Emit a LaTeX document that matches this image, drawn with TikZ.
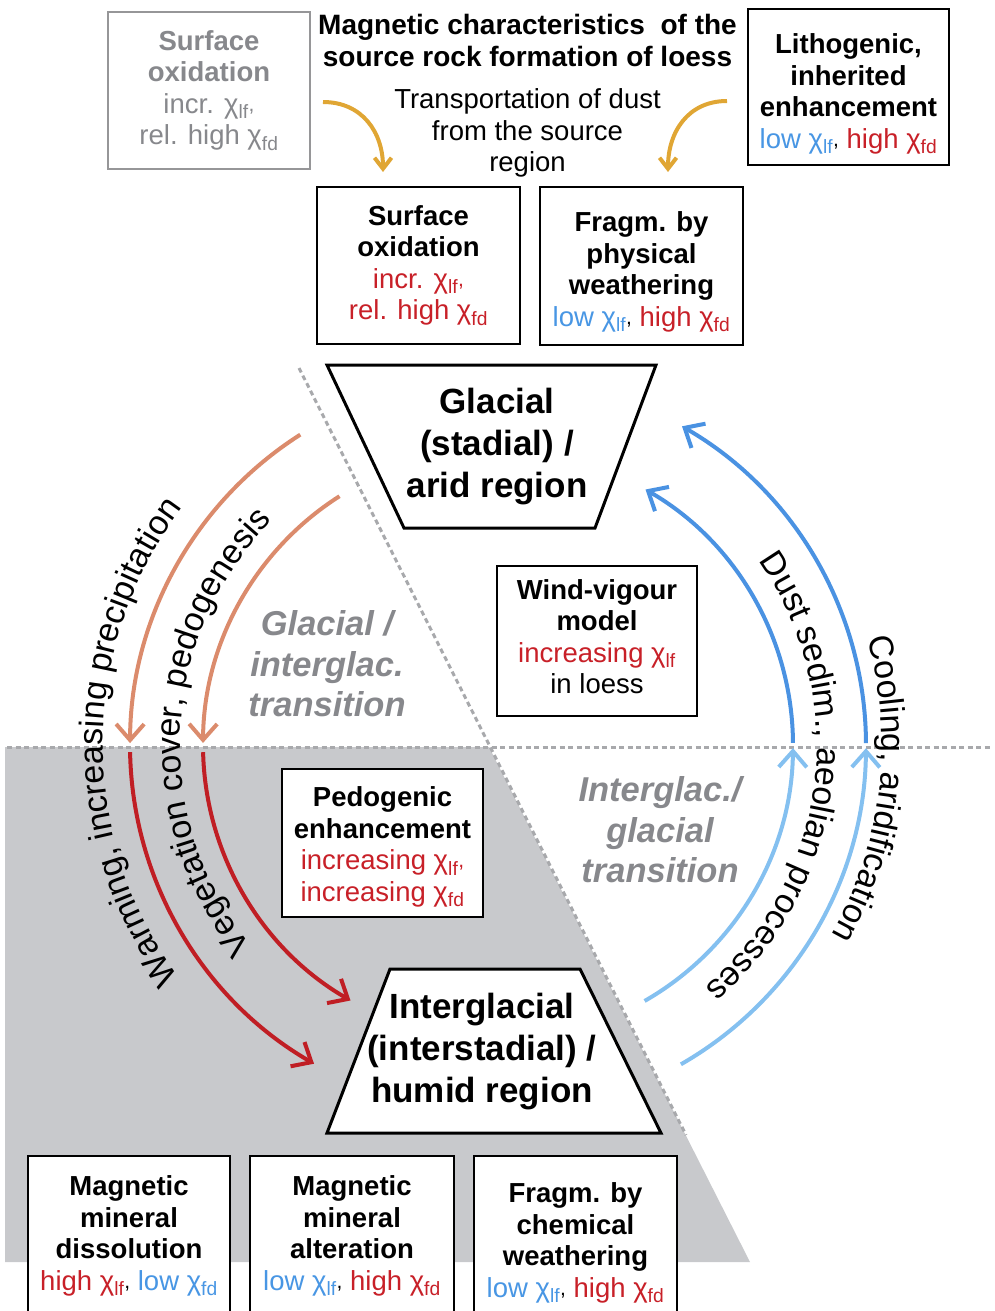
\documentclass[tikz,border=0pt]{standalone}
\usepackage{fontspec}
\setmainfont{Liberation Sans}
\usetikzlibrary{arrows.meta,decorations.text}

\definecolor{redtxt}{RGB}{200,32,40}
\definecolor{bluetxt}{RGB}{72,150,228}
\definecolor{greytxt}{RGB}{135,136,140}
\definecolor{greyframe}{RGB}{150,150,152}
\definecolor{warmorange}{RGB}{219,139,108}
\definecolor{warmred}{RGB}{192,30,36}
\definecolor{colddark}{RGB}{74,146,226}
\definecolor{coldlight}{RGB}{132,192,240}
\definecolor{dustgold}{RGB}{224,166,52}
\definecolor{humidgrey}{RGB}{200,201,204}
\definecolor{dashgrey}{RGB}{168,169,172}

\newcommand{\xlf}{χ\textsubscript{lf}}
\newcommand{\xfd}{χ\textsubscript{fd}}
\newcommand{\subcomma}{\raisebox{2pt}{\fontsize{21}{21}\selectfont,}}
\newcommand{\rtxt}[1]{\textcolor{redtxt}{#1}}
\newcommand{\btxt}[1]{\textcolor{bluetxt}{#1}}
\newcommand{\boxfont}{\fontsize{27.5}{31.5}\selectfont}
\newcommand{\arcfont}{\fontsize{34}{40}\selectfont}
\newcommand{\cutoff}{\rule[-80pt]{0pt}{0pt}}
\newcommand{\padtop}[1]{\rule{0pt}{#1}}
\newcommand{\padbottom}[1]{\rule[-#1]{0pt}{0pt}}

\begin{document}
\begin{tikzpicture}[x=1pt, y=1pt,
    infobox/.style={draw, line width=1.8pt, fill=white, align=center,
                    inner sep=2pt, font=\boxfont},
    ghostbox/.style={infobox, draw=greyframe, text=greytxt},
    plaintext/.style={align=center, inner sep=0pt, font=\boxfont},
    regiontext/.style={align=center, inner sep=0pt,
                       font=\fontsize{35}{42}\selectfont\bfseries},
    phasetext/.style={align=center, inner sep=0pt, text=greytxt,
                      font=\fontsize{34.5}{40.5}\selectfont\bfseries\itshape},
    regionline/.style={line width=3pt, fill=white, line join=miter},
    divider/.style={dashgrey, line width=3pt, dash pattern=on 5pt off 3.5pt},
    cyclearrow/.style={line width=4pt, -{Straight Barb[length=16pt,width=28pt]}},
    dustarrow/.style={dustgold, line width=4pt, -{Straight Barb[length=11pt,width=17pt]}},
    arclabel/.style={decorate, decoration={text along path, text align=center, text={#1}}}
  ]
  \useasboundingbox (0,0) rectangle (995,-1311);
  \clip (0,0) rectangle (995,-1311);

  % humid (interglacial) half
  \fill[humidgrey] (5,-747) -- (489,-747) -- (750,-1262) -- (5,-1262) -- cycle;
  \draw[divider] (7,-747) -- (990,-747);
  \draw[divider] (299,-368) -- (686,-1135);

  % source region
  \node[ghostbox, minimum width=202, minimum height=157] (oldox) at (209,-90.5)
    {\textbf{Surface}\\\textbf{oxidation}\\incr. \xlf\subcomma\\rel. high \xfd};
  \node[plaintext, font=\fontsize{28}{32}\selectfont\bfseries] (title) at (527.5,-40)
    {Magnetic characteristics\ \ of the\\source rock formation of loess};
  \node[plaintext] (transport) at (527.5,-133) {Transportation of dust\\from the source\\region};
  \node[infobox, minimum width=201, minimum height=156] (litho) at (848.5,-87)
    {\padtop{34pt}\textbf{Lithogenic,}\\\textbf{inherited}\\\textbf{enhancement}\\\btxt{low \xlf}\subcomma{} \rtxt{high \xfd}};
  \node[infobox, minimum width=203, minimum height=157] (surfox) at (418.5,-265.5)
    {\textbf{Surface}\\\textbf{oxidation}\\\rtxt{incr. \xlf\subcomma}\\\rtxt{rel. high \xfd}};
  \node[infobox, minimum width=203, minimum height=158] (physfrag) at (641.5,-266)
    {\padtop{32pt}\textbf{Fragm. by}\\\textbf{physical}\\\textbf{weathering}\\\btxt{low \xlf}\subcomma{} \rtxt{high \xfd}};

  \coordinate (dustL) at (323,-102);
  \coordinate (dustLend) at (383,-172);
  \coordinate (dustR) at (727,-101);
  \coordinate (dustRend) at (668,-172);
  \draw[dustarrow] (dustL) .. controls (362,-102) and (383,-132) .. (dustLend);
  \draw[dustarrow] (dustR) .. controls (688,-101) and (668,-132) .. (dustRend);

  % glacial region
  \draw[regionline] (327,-365) -- (656,-365) -- (595,-528) -- (404,-528) -- cycle;
  \node[regiontext] (glacial) at (497,-447) {Glacial\\(stadial) /\\arid region};
  \node[infobox, minimum width=200, minimum height=150] (wind) at (597,-641)
    {\textbf{Wind-vigour}\\\textbf{model}\\\rtxt{increasing \xlf}\\in loess\padbottom{9pt}};
  \node[phasetext] (gitrans) at (327,-664) {Glacial /\\interglac.\\transition};
  \node[phasetext] (igtrans) at (660,-830) {Interglac./\\glacial\\transition};

  % interglacial region
  \node[infobox, minimum width=201, minimum height=148] (pedo) at (382.5,-843)
    {\padtop{28pt}\textbf{Pedogenic}\\\textbf{enhancement}\\\rtxt{increasing \xlf\subcomma}\\\rtxt{increasing \xfd}};
  \draw[regionline] (327,-1133) -- (661,-1133) -- (580,-969) -- (390,-969) -- cycle;
  \node[regiontext] (interglacial) at (482,-1052) {Interglacial\\(interstadial) /\\humid region};

  \node[infobox, anchor=north, minimum width=202, inner ysep=20pt] (dissol) at (129,-1155)
    {\textbf{Magnetic}\\\textbf{mineral}\\\textbf{dissolution}\\\rtxt{high \xlf}\subcomma{} \btxt{low \xfd}\cutoff};
  \node[infobox, anchor=north, minimum width=204, inner ysep=20pt] (alter) at (352,-1155)
    {\textbf{Magnetic}\\\textbf{mineral}\\\textbf{alteration}\\\btxt{low \xlf}\subcomma{} \rtxt{high \xfd}\cutoff};
  \node[infobox, anchor=north, minimum width=203, inner ysep=27pt] (chemfrag) at (575.5,-1155)
    {\textbf{Fragm. by}\\\textbf{chemical}\\\textbf{weathering}\\\btxt{low \xlf}\subcomma{} \rtxt{high \xfd}\cutoff};

  % glacial-interglacial cycle
  \coordinate (hub) at (498,-745);
  \draw[cyclearrow, warmorange] ([shift={(122.5:368)}]hub) arc[start angle=122.5, end angle=179.7, radius=368];
  \draw[cyclearrow, warmred] ([shift={(181.1:368)}]hub) arc[start angle=181.1, end angle=240, radius=368];
  \draw[cyclearrow, warmorange] ([shift={(122.5:295)}]hub) arc[start angle=122.5, end angle=179.6, radius=295];
  \draw[cyclearrow, warmred] ([shift={(181.4:295)}]hub) arc[start angle=181.4, end angle=240, radius=295];
  \draw[cyclearrow, coldlight] ([shift={(-60.2:368)}]hub) arc[start angle=-60.2, end angle=-0.5, radius=368];
  \draw[cyclearrow, colddark] ([shift={(0.3:368)}]hub) arc[start angle=0.3, end angle=60, radius=368];
  \draw[cyclearrow, coldlight] ([shift={(-60.2:295)}]hub) arc[start angle=-60.2, end angle=-0.6, radius=295];
  \draw[cyclearrow, colddark] ([shift={(0.4:295)}]hub) arc[start angle=0.4, end angle=60, radius=295];

  \path[arclabel={|\arcfont|Warming, increasing precipitation}]
    ([shift={(234.5:395)}]hub) arc[start angle=234.5, end angle=124.5, radius=395];
  \path[arclabel={|\arcfont|Vegetation cover, pedogenesis}]
    ([shift={(232.2:318)}]hub) arc[start angle=232.2, end angle=122.2, radius=318];
  \path[arclabel={|\arcfont|Dust sedim., aeolian processes}]
    ([shift={(47.8:319)}]hub) arc[start angle=47.8, end angle=-62.2, radius=319];
  \path[arclabel={|\arcfont|Cooling, aridification}]
    ([shift={(48.2:384)}]hub) arc[start angle=48.2, end angle=-61.8, radius=384];
\end{tikzpicture}
\end{document}
